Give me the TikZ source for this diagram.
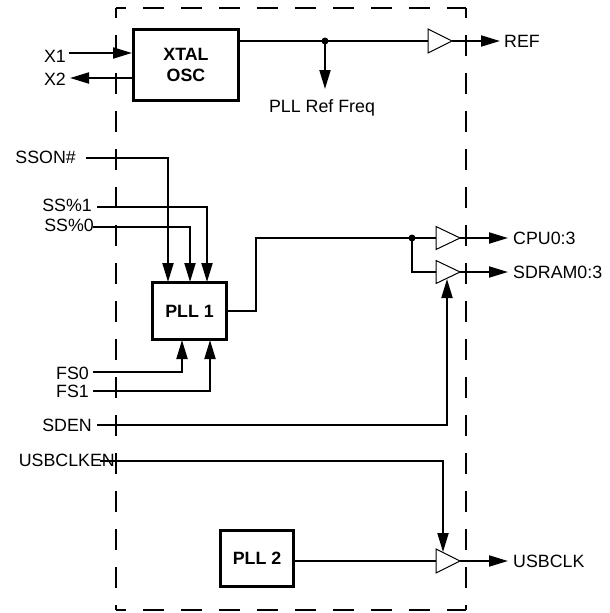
\documentclass[tikz,border=0pt]{standalone}
\usepackage{fontspec}
\setmainfont{Liberation Sans}
\usetikzlibrary{arrows.meta}
\begin{document}
\begin{tikzpicture}[x=1pt,y=-1pt,
  wire/.style={line width=2pt},
  sig/.style={wire,-{Triangle[length=19pt,width=11pt]}},
  blk/.style={draw,line width=3pt,inner sep=0pt,align=center,
    font=\bfseries\fontsize{17.8}{21}\selectfont},
  buf/.style={line width=1pt,fill=white},
  lab/.style={inner sep=0pt,font=\fontsize{17.8}{20}\selectfont},
  bound/.style={line width=2pt,dash pattern=on 21pt off 17pt,dash phase=11pt},
  dotc/.style={circle,fill,inner sep=0pt,minimum size=7pt}]
\useasboundingbox (0,0) rectangle (610,613);
% boundary
\coordinate (tl) at (116,8);
\coordinate (tr) at (466,8);
\coordinate (bl) at (116,610);
\coordinate (br) at (466,610);
\draw[bound] (tl) -- (bl);
\draw[bound] (tr) -- (br);
\draw[bound] (tl) -- (tr);
\draw[bound] (bl) -- (br);

% blocks
\node[blk,minimum width=105pt,minimum height=71pt] (xtal) at (186,65) {XTAL\\OSC};
\node[blk,minimum width=74pt,minimum height=57pt] (pll1) at (189.5,311) {PLL 1};
\node[blk,minimum width=73pt,minimum height=56pt] (pll2) at (257,558.5) {PLL 2};

% buffers
\coordinate (refin) at (428,41);  \coordinate (refout) at (452,41);
\coordinate (cpuin) at (436,238); \coordinate (cpuout) at (460,238);
\coordinate (sdrin) at (436,272); \coordinate (sdrout) at (460,272);
\coordinate (usbin) at (436,561); \coordinate (usbout) at (460,561);

% labels
\node[lab,anchor=east] (x1) at (66,56) {X1};
\node[lab,anchor=east] (x2) at (66,79) {X2};
\node[lab,anchor=west] (ref) at (504,41) {REF};
\node[lab] (pllref) at (322,108) {PLL Ref Freq};
\node[lab,anchor=east] (sson) at (76,157) {SSON\#};
\node[lab,anchor=east] (ss1) at (92,205) {SS\%1};
\node[lab,anchor=east] (ss0) at (94,225) {SS\%0};
\node[lab,anchor=east] (fs0) at (89,373) {FS0};
\node[lab,anchor=east] (fs1) at (89,391) {FS1};
\node[lab,anchor=east] (sden) at (92,425) {SDEN};
\node[lab,anchor=east] (usben) at (115,460) {USBCLKEN};
\node[lab,anchor=west] (cpu) at (513,238) {CPU0:3};
\node[lab,anchor=west] (sdram) at (513,272) {SDRAM0:3};
\node[lab,anchor=west] (usbclk) at (513,561) {USBCLK};

% pin coordinates
\coordinate (x1s) at (69,53);
\coordinate (x2e) at (70,78);
\coordinate (refend) at (500,41);
\coordinate (rdot) at (325,41);
\coordinate (rdown) at (325,89);
\coordinate (ssons) at (86,158);
\coordinate (ss1s) at (97,207);
\coordinate (ss0s) at (93,227);
\coordinate (fs0s) at (93,372);
\coordinate (fs1s) at (93,391);
\coordinate (sdens) at (97,425);
\coordinate (usbens) at (100,461);
\coordinate (cdot) at (412,238);
\coordinate (cpuend) at (508,238);
\coordinate (sdrend) at (508,272);
\coordinate (usbend) at (508,561);

% XTAL connections
\draw[sig] (x1s) -- (x1s -| xtal.west);
\draw[sig] (x2e -| xtal.west) -- (x2e);
\draw[wire] (xtal.east |- refin) -- (refin);
\node[dotc] (rdotn) at (rdot) {};
\draw[sig] (rdotn.center) -- (rdown);
\draw[sig] (refout) -- (refend);

% PLL1 inputs
\draw[sig] (ssons) -- (168,158) -- (168,282);
\draw[sig] (ss1s) -- (207,207) -- (207,282);
\draw[sig] (ss0s) -- (190,227) -- (190,282);
\draw[sig] (fs0s) -- (182,372) -- (182,340);
\draw[sig] (fs1s) -- (210,391) -- (210,340);

% PLL1 output
\draw[wire] (pll1.east |- 0,311) -- (256,311) -- (256,238) -- (cpuin);
\node[dotc] (cdotn) at (cdot) {};
\draw[wire] (cdotn.center) -- (412,272) -- (sdrin);
\draw[sig] (cpuout) -- (cpuend);
\draw[sig] (sdrout) -- (sdrend);
\draw[sig] (sdens) -- (447,425) -- (447,279);

% USB
\draw[sig] (usbens) -- (443,461) -- (443,552);
\draw[wire] (pll2.east |- usbin) -- (usbin);
\draw[sig] (usbout) -- (usbend);

% buffer triangles
\draw[buf] (428,29) -- (refout) -- (428,53) -- cycle;
\draw[buf] (436,226.5) -- (cpuout) -- (436,249.5) -- cycle;
\draw[buf] (436,260.5) -- (sdrout) -- (436,283.5) -- cycle;
\draw[buf] (436,549) -- (usbout) -- (436,573) -- cycle;
\end{tikzpicture}
\end{document}
